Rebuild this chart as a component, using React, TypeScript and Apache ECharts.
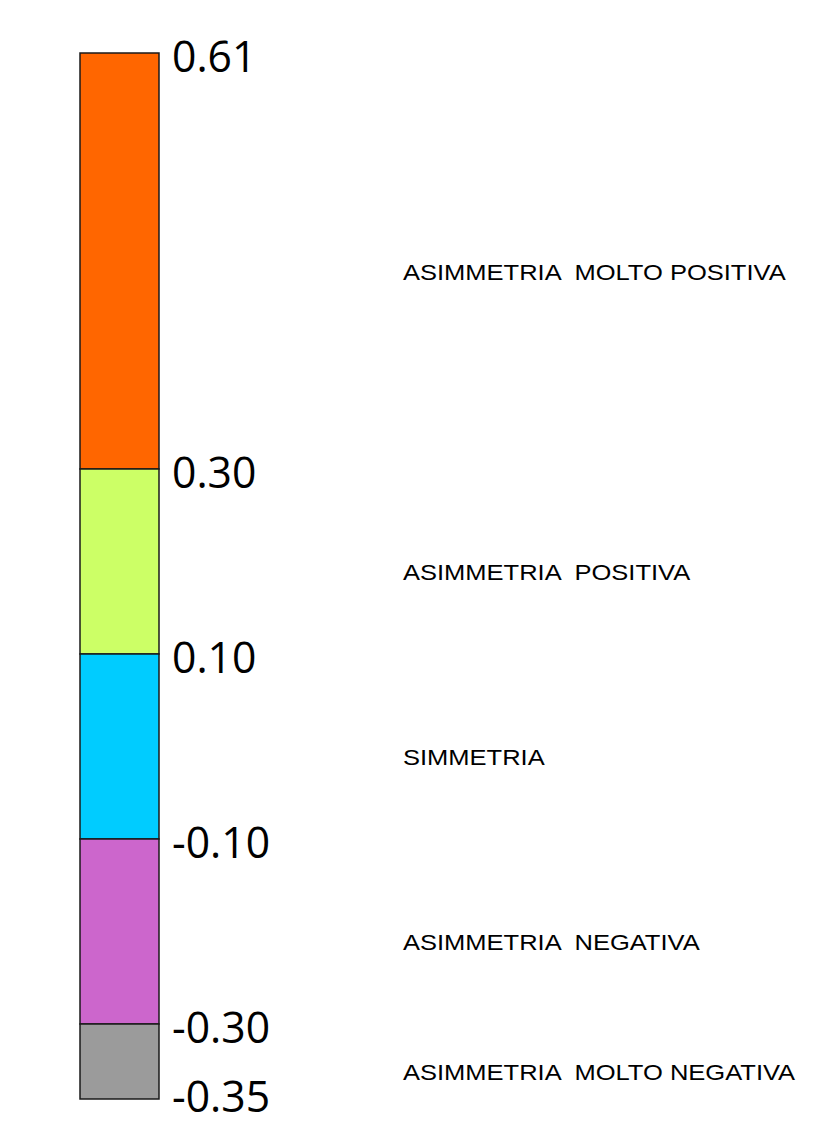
import React, { useEffect, useRef } from "react";
import * as echarts from "echarts";

// Class boundaries, top to bottom (tick labels of the colour bar)
const bounds = [0.61, 0.3, 0.1, -0.1, -0.3, -0.35];
// Class names, top to bottom
const classLabels = [
  "ASIMMETRIA  MOLTO POSITIVA",
  "ASIMMETRIA  POSITIVA",
  "SIMMETRIA",
  "ASIMMETRIA  NEGATIVA",
  "ASIMMETRIA  MOLTO NEGATIVA",
];
// Class colours, top to bottom
const classColors = ["#FF6600", "#CCFF66", "#00CCFF", "#CC66CC", "#9B9B9B"];
// Drawn extent of each class band on the bar (relative units)
const bandSpans = [416, 185, 185, 185, 75];

export default function App() {
  const ref = useRef<HTMLDivElement>(null);

  useEffect(() => {
    if (!ref.current) return;
    const chart = echarts.init(ref.current, undefined, { renderer: "svg" });

    const total = bandSpans.reduce((a, b) => a + b, 0);
    let acc = 0;
    const data = bandSpans.map((span, i) => {
      const start = acc;
      acc += span;
      return { name: classLabels[i], value: [i, start, acc] };
    });

    const numFont = {
      fontFamily: "Open Sans",
      fontSize: 44,
      lineHeight: 36,
      fill: "#000",
      align: "left",
      verticalAlign: "middle",
    };

    const renderItem = (params: any, api: any) => {
      const i = api.value(0);
      const p0 = api.coord([0, api.value(1)]);
      const p1 = api.coord([1, api.value(2)]);
      const top = p0[1];
      const bottom = p1[1];
      const left = p0[0];
      const right = p1[0];
      const children: any[] = [
        {
          type: "rect",
          shape: { x: left, y: top, width: right - left, height: bottom - top },
          style: { fill: classColors[i], stroke: "#1a1a1a", lineWidth: 1.5 },
        },
        {
          type: "text",
          x: right + 13,
          y: top + 2,
          scaleX: 0.97,
          style: { ...numFont, text: bounds[i].toFixed(2) },
        },
        {
          type: "text",
          x: right + 244,
          y: (top + bottom) / 2 + 11,
          scaleX: 1.16,
          style: {
            text: classLabels[i],
            fontFamily: "Liberation Sans",
            fontSize: 22,
            fill: "#000",
            align: "left",
            verticalAlign: "middle",
          },
        },
      ];
      if (i === bandSpans.length - 1) {
        children.push({
          type: "text",
          x: right + 13,
          y: bottom - 4,
          scaleX: 0.97,
          style: { ...numFont, text: bounds[i + 1].toFixed(2) },
        });
      }
      return { type: "group", children };
    };

    chart.setOption({
      animation: false,
      backgroundColor: "#fff",
      grid: { left: 80, top: 53, width: 79, height: total },
      xAxis: { type: "value", min: 0, max: 1, show: false },
      yAxis: { type: "value", min: 0, max: total, inverse: true, show: false },
      series: [
        {
          type: "custom",
          renderItem,
          clip: false,
          encode: { x: 0, y: [1, 2] },
          data,
        },
      ],
    });

    return () => chart.dispose();
  }, []);

  return (
    <div
      ref={ref}
      style={{ position: "absolute", left: 0, top: 0, width: 834, height: 1124 }}
    />
  );
}
